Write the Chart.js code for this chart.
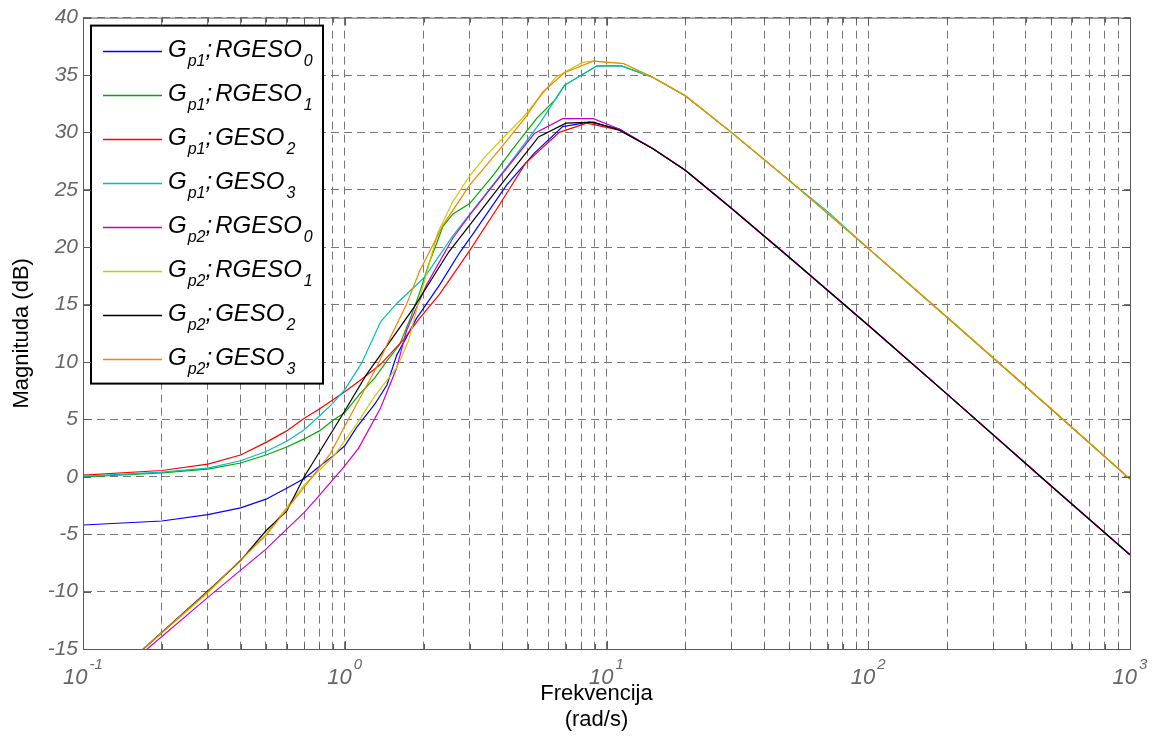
<!DOCTYPE html>
<html>
<head>
<meta charset="utf-8">
<title>Bode - magnituda</title>
<script src="https://cdn.jsdelivr.net/npm/chart.js@4.4.1/dist/chart.umd.min.js"></script>
<style>
    html, body { margin: 0; padding: 0; background: #fff; }
    #wrap { width: 1156px; height: 738px; }
</style>
</head>
<body>
<div id="wrap"><canvas id="bodeChart" width="1156" height="738"></canvas></div>
<script>
// Frekvencija (rad/s), magnituda (dB) - ocitano sa slike
var gp1Rgeso0 = [[0.1,-4.2],[0.2,-3.85],[0.3,-3.3],[0.4,-2.7],[0.5,-1.95],[0.6,-1.0],[0.7,-0.15],[0.8,0.9],[0.9,1.8],[1.0,2.7],[1.11,4.3],[1.3,6.3],[1.45,8.0],[1.58,10.6],[1.88,13.8],[2.3,16.7],[2.76,19.6],[3.1,21.2],[4.15,25.4],[5.3,28.2],[6.8,30.5],[8.6,30.9],[11.2,30.3],[15,28.6],[20,26.7],[30,23.4],[50,19.1],[100,13.2],[200,7.2],[500,-0.8],[1000,-6.8]];
var gp1Rgeso1 = [[0.1,0.0],[0.2,0.35],[0.3,0.67],[0.4,1.2],[0.5,1.9],[0.6,2.6],[0.7,3.3],[0.8,4.0],[0.9,4.9],[1.0,5.6],[1.14,7.2],[1.3,8.6],[1.45,10.1],[1.62,11.5],[1.78,13.8],[1.93,16.0],[2.1,18.6],[2.37,21.8],[2.59,22.9],[3.0,23.8],[3.7,26.3],[4.4,28.6],[5.4,31.2],[6.4,32.9],[6.9,34.1],[9.2,35.8],[11.4,35.8],[15,34.8],[20,33.2],[30,30.0],[50,25.8],[100,19.9],[200,13.9],[500,5.9],[1000,-0.2]];
var gp1Geso2 = [[0.1,0.15],[0.2,0.55],[0.3,1.1],[0.4,1.9],[0.5,3.0],[0.6,4.0],[0.7,5.1],[0.8,5.9],[1.0,7.4],[1.16,8.5],[1.37,9.8],[1.67,11.9],[1.93,13.8],[2.3,15.9],[3.0,19.7],[3.9,23.7],[4.9,27.3],[6.6,30.0],[8.4,30.8],[11.2,30.2],[15,28.6],[20,26.7],[30,23.4],[50,19.1],[100,13.2],[200,7.2],[500,-0.8],[1000,-6.8]];
var gp1Geso3 = [[0.1,0.03],[0.2,0.4],[0.3,0.75],[0.4,1.4],[0.5,2.2],[0.6,3.1],[0.7,4.1],[0.8,5.3],[0.9,6.4],[1.0,7.6],[1.16,9.9],[1.37,13.5],[1.58,15.1],[2.02,17.4],[2.59,21.0],[3.5,24.8],[4.5,28.0],[5.6,30.9],[6.9,34.1],[9.2,35.8],[11.4,35.8],[15,34.8],[20,33.2],[30,30.0],[50,25.8],[70,23.1],[100,19.9],[200,13.9],[500,5.9],[1000,-0.2]];
var gp2Rgeso0 = [[0.15,-16.3],[0.176,-15],[0.3,-10.5],[0.5,-6.3],[0.7,-3.1],[0.78,-1.9],[1.0,0.95],[1.13,2.5],[1.37,6.0],[1.58,9.5],[1.72,12.7],[2.05,16.7],[2.59,20.8],[3.0,22.8],[4.03,26.5],[5.3,29.9],[6.8,31.2],[8.9,31.2],[11.2,30.3],[15,28.6],[20,26.7],[30,23.4],[50,19.1],[100,13.2],[200,7.2],[500,-0.8],[1000,-6.8]];
var gp2Rgeso1 = [[0.15,-16.3],[0.17,-15],[0.3,-10.1],[0.5,-5.0],[0.7,-0.7],[0.9,1.7],[1.11,4.6],[1.3,7.0],[1.58,9.5],[1.75,11.8],[1.93,15.5],[2.11,18.7],[2.27,21.3],[2.59,24.0],[3.0,26.2],[3.38,27.7],[3.9,29.2],[4.8,31.3],[6.4,34.8],[8.1,36.1],[8.9,36.2],[11.6,36.0],[15,34.8],[20,33.2],[30,30.0],[50,25.8],[100,19.9],[200,13.9],[500,5.9],[1000,-0.2]];
var gp2Geso2 = [[0.15,-16.1],[0.17,-15],[0.3,-9.95],[0.4,-7.3],[0.5,-4.7],[0.6,-3.0],[0.7,0.0],[0.98,5.4],[1.21,8.9],[1.49,11.8],[1.83,14.7],[2.5,19.6],[4.03,25.7],[5.5,29.6],[7.0,30.8],[8.9,30.9],[11.2,30.2],[15,28.6],[20,26.7],[30,23.4],[50,19.1],[100,13.2],[200,7.2],[500,-0.8],[1000,-6.8]];
var gp2Geso3 = [[0.15,-16.2],[0.17,-15],[0.3,-10],[0.5,-5.1],[0.7,-0.9],[0.88,2.0],[1.01,4.6],[1.32,9.5],[1.49,12.1],[1.72,15.0],[1.93,17.9],[2.37,21.9],[3.0,25.4],[3.9,28.5],[4.9,31.3],[5.7,33.5],[6.9,35.2],[8.9,36.2],[11.6,36.0],[15,34.8],[20,33.2],[30,30.0],[50,25.8],[100,19.9],[200,13.9],[500,5.9],[1000,-0.2]];

// Legenda: G_{sub1}; {naziv}_{sub2}
var seriesData = [gp1Rgeso0, gp1Rgeso1, gp1Geso2, gp1Geso3, gp2Rgeso0, gp2Rgeso1, gp2Geso2, gp2Geso3];
var seriesSub1 = ["p1", "p1", "p1", "p1", "p2", "p2", "p2", "p2"];
var seriesName = ["RGESO", "RGESO", "GESO", "GESO", "RGESO", "RGESO", "GESO", "GESO"];
var seriesSub2 = ["0", "1", "2", "3", "0", "1", "2", "3"];
var seriesColors = ["#0000ff", "#00aa00", "#ff0000", "#00bfbf", "#cc00cc", "#cccc00", "#000000", "#ee8800"];

var xTickValues = [];
for (var e = -1; e < 3; e++) {
    for (var k = 1; k < 10; k++) xTickValues.push(k * Math.pow(10, e));
}
xTickValues.push(1000);

var FONT = '"Liberation Sans", Arial, Helvetica, sans-serif';
var TICK_GRAY = '#666666';

var matlabPlugin = {
    id: 'matlabLook',
    afterDatasetsDraw: function(chart) {
        // legenda (gore lijevo, unutar grafa)
        var ctx = chart.ctx, area = chart.chartArea;
        var bx = area.left + 8, by = area.top + 8, bw = 232, bh = 358;
        ctx.save();
        ctx.fillStyle = '#fff';
        ctx.fillRect(bx, by, bw, bh);
        ctx.lineWidth = 2;
        ctx.strokeStyle = '#000';
        ctx.strokeRect(bx, by, bw, bh);
        chart.data.datasets.forEach(function(ds, i) {
            var cy = by + 25 + i * 44.1;
            ctx.strokeStyle = ds.borderColor;
            ctx.lineWidth = 1.5;
            ctx.beginPath();
            ctx.moveTo(bx + 12, Math.round(cy) + 0.5);
            ctx.lineTo(bx + 71, Math.round(cy) + 0.5);
            ctx.stroke();

            var x = bx + 77, base = cy + 6;
            ctx.fillStyle = '#000';
            ctx.textBaseline = 'alphabetic';
            ctx.textAlign = 'left';
            ctx.font = 'italic 24px ' + FONT;
            ctx.fillText('G', x, base);
            x += ctx.measureText('G').width + 1;
            ctx.font = 'italic 16px ' + FONT;
            ctx.fillText(ds.sub1, x, base + 9);
            x += ctx.measureText(ds.sub1).width;
            ctx.font = 'italic 24px ' + FONT;
            ctx.fillText(';', x, base);
            x += ctx.measureText(';').width + 3;
            ctx.fillText(ds.name, x, base);
            x += ctx.measureText(ds.name).width + 2;
            ctx.font = 'italic 16px ' + FONT;
            ctx.fillText(ds.sub2, x, base + 9);
        });
        ctx.restore();
    },
    afterDraw: function(chart) {
        var ctx = chart.ctx, area = chart.chartArea;
        var xs = chart.scales.x, ys = chart.scales.y;
        ctx.save();
        // okvir
        ctx.strokeStyle = '#5a5a5a';
        ctx.lineWidth = 1;
        ctx.strokeRect(area.left + 0.5, area.top + 0.5, area.right - area.left, area.bottom - area.top);
        // unutrasnje crtice
        ctx.beginPath();
        xs.ticks.forEach(function(t) {
            var px = Math.round(xs.getPixelForValue(t.value)) + 0.5;
            var lg = Math.log10(t.value);
            var len = Math.abs(lg - Math.round(lg)) < 1e-9 ? 8 : 5;
            ctx.moveTo(px, area.bottom); ctx.lineTo(px, area.bottom - len);
            ctx.moveTo(px, area.top); ctx.lineTo(px, area.top + len);
        });
        ys.ticks.forEach(function(t) {
            var py = Math.round(ys.getPixelForValue(t.value)) + 0.5;
            ctx.moveTo(area.left, py); ctx.lineTo(area.left + 8, py);
            ctx.moveTo(area.right, py); ctx.lineTo(area.right - 8, py);
        });
        ctx.stroke();

        // oznake x ose: 10^n
        ctx.fillStyle = TICK_GRAY;
        ctx.textBaseline = 'alphabetic';
        ctx.textAlign = 'left';
        xs.ticks.forEach(function(t) {
            var lg = Math.log10(t.value);
            if (Math.abs(lg - Math.round(lg)) > 1e-9) return;
            var ex = String(Math.round(lg));
            var px = xs.getPixelForValue(t.value);
            ctx.font = 'italic 22px ' + FONT;
            var w1 = ctx.measureText('10').width;
            ctx.font = 'italic 15px ' + FONT;
            var w2 = ctx.measureText(ex).width;
            var x0 = px - (w1 + 2 + w2) / 2;
            ctx.font = 'italic 22px ' + FONT;
            ctx.fillText('10', x0, area.bottom + 35);
            ctx.font = 'italic 15px ' + FONT;
            ctx.fillText(ex, x0 + w1 + 2, area.bottom + 20);
        });

        // naslov x ose
        ctx.fillStyle = '#000';
        ctx.textAlign = 'center';
        ctx.textBaseline = 'middle';
        ctx.font = '22px ' + FONT;
        var cx = (area.left + area.right) / 2 - 10;
        ctx.fillText('Frekvencija', cx, area.bottom + 45);
        ctx.fillText('(rad/s)', cx, area.bottom + 71);
        ctx.restore();
    }
};

document.addEventListener("DOMContentLoaded", function() {
    var ctxBode = document.getElementById("bodeChart");

    var datasets = seriesData.map(function(pts, i) {
        return {
            label: 'G' + seriesSub1[i] + '; ' + seriesName[i] + seriesSub2[i],
            sub1: seriesSub1[i],
            name: seriesName[i],
            sub2: seriesSub2[i],
            data: pts.map(function(p) { return { x: p[0], y: p[1] }; }),
            showLine: true,
            borderColor: seriesColors[i],
            backgroundColor: seriesColors[i],
            borderWidth: 1.2,
            pointRadius: 0,
            tension: 0,
            fill: false,
            order: seriesData.length - i // zadnja serija crta se iznad
        };
    });

    new Chart(ctxBode, {
        type: 'scatter',
        data: { datasets: datasets },
        plugins: [matlabPlugin],
        options: {
            responsive: false,
            animation: false,
            devicePixelRatio: 1,
            layout: { padding: { left: 0, right: 26, top: 15, bottom: 0 } },
            plugins: {
                legend: { display: false },
                tooltip: { enabled: false }
            },
            scales: {
                x: {
                    type: 'logarithmic',
                    min: 0.1,
                    max: 1000,
                    afterBuildTicks: function(scale) {
                        scale.ticks = xTickValues.map(function(v) { return { value: v }; });
                    },
                    afterFit: function(scale) { scale.height = 89; },
                    ticks: { display: false },
                    grid: { color: '#777777', lineWidth: 1, drawTicks: false },
                    border: { display: true, color: '#5a5a5a', dash: [8, 5] }
                },
                y: {
                    min: -15,
                    max: 40,
                    afterFit: function(scale) { scale.width = 83; },
                    ticks: {
                        stepSize: 5,
                        padding: 5,
                        color: TICK_GRAY,
                        font: { family: FONT, size: 21, style: 'italic' }
                    },
                    grid: { color: '#777777', lineWidth: 1, drawTicks: false },
                    border: { display: true, color: '#5a5a5a', dash: [8, 5] },
                    title: {
                        display: true,
                        text: 'Magnituda (dB)',
                        color: '#000',
                        font: { family: FONT, size: 22 },
                        padding: { top: 9, bottom: 0 }
                    }
                }
            }
        }
    });
});
</script>
</body>
</html>
